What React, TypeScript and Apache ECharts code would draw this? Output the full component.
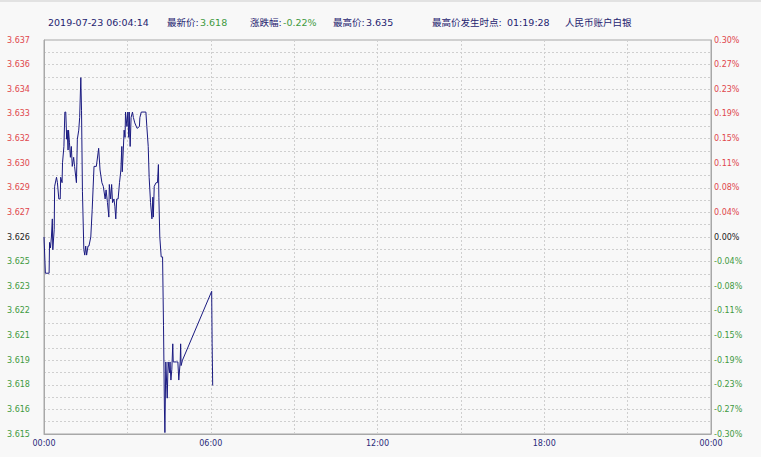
import React, { useEffect, useRef } from "react";
import * as echarts from "echarts";

// Reference (previous close) price: 0.00% line
const basePrice = 3.6262;

// Minutes after 00:00
const times = [
  0, 1, 3, 11, 12, 14, 16, 18, 19, 22, 23, 27, 29, 32, 35, 36, 39, 40, 43, 45,
  47, 49, 50, 52, 53, 55, 57, 59, 61, 64, 66, 70, 72, 75, 77, 79.5, 81, 83, 86, 88,
  90, 92, 95, 97, 101, 104, 108, 113, 118, 121, 125, 128, 132, 134, 137, 140, 141, 144, 146, 148,
  151, 153, 155, 157, 160, 163, 166, 168, 169, 171, 173, 175, 176, 179, 181, 183, 184, 186, 188, 191,
  193, 196, 201, 206, 207, 210, 220, 222, 225, 227, 230, 233, 235, 236, 238, 242, 245, 247, 248, 250,
  253, 256, 258, 260, 261, 263, 265, 266, 268, 271, 272, 274, 276, 278, 279, 286, 289, 291, 294, 295,
  296, 299, 362, 363, 364.2,
];

const prices = [
  3.6262, 3.6262, 3.6242, 3.6242, 3.6259, 3.6256, 3.6262, 3.6272, 3.6255, 3.6266, 3.629, 3.6295, 3.6292, 3.6283, 3.6283, 3.6295, 3.6292, 3.6303, 3.6312, 3.6331,
  3.6331, 3.6316, 3.6321, 3.631, 3.6321, 3.6314, 3.6306, 3.6312, 3.6301, 3.6306, 3.6301, 3.6292, 3.6316, 3.6321, 3.6328, 3.635, 3.6332, 3.6287, 3.6255, 3.6252,
  3.6257, 3.6252, 3.6257, 3.6257, 3.6262, 3.6277, 3.6301, 3.6301, 3.6311, 3.6299, 3.6292, 3.629, 3.6283, 3.6288, 3.6281, 3.6273, 3.6291, 3.6283, 3.6291, 3.6281,
  3.6283, 3.6279, 3.6272, 3.6283, 3.6283, 3.6292, 3.6299, 3.6312, 3.6298, 3.6309, 3.6321, 3.6317, 3.6331, 3.6323, 3.6331, 3.6317, 3.6331, 3.6312, 3.6328, 3.6331,
  3.6328, 3.6325, 3.6322, 3.6323, 3.6328, 3.6331, 3.6331, 3.6323, 3.6312, 3.6295, 3.6281, 3.6272, 3.6284, 3.6273, 3.629, 3.6292, 3.6292, 3.6302, 3.6284, 3.6262,
  3.6251, 3.6251, 3.6213, 3.6167, 3.6154, 3.6193, 3.618, 3.6173, 3.6193, 3.6187, 3.6193, 3.6183, 3.6189, 3.6203, 3.6193, 3.6193, 3.6193, 3.6183, 3.6193, 3.6203,
  3.6191, 3.6194, 3.6232, 3.6203, 3.618,
];

const leftLabels = [
  "3.637", "3.636", "3.634", "3.633", "3.632", "3.630", "3.629", "3.627", "3.626",
  "3.625", "3.623", "3.622", "3.621", "3.619", "3.618", "3.616", "3.615",
];
const rightLabels = [
  "0.30%", "0.27%", "0.23%", "0.19%", "0.15%", "0.11%", "0.08%", "0.04%", "0.00%",
  "-0.04%", "-0.08%", "-0.11%", "-0.15%", "-0.19%", "-0.23%", "-0.27%", "-0.30%",
];
const xLabels = ["00:00", "06:00", "12:00", "18:00", "00:00"];

const headerDate = "2019-07-23 06:04:14";
const lastPrice = "3.618";
const changePct = "-0.22%";
const highPrice = "3.635";
const highTime = "01:19:28";
const instrument = "人民币账户白银";

const NAVY = "#1f2470";
const RED = "#e0474c";
const GREEN = "#3f9a3f";
const FONT = "'DejaVu Sans', 'Noto Sans CJK SC', sans-serif";

const labelIndex = (v: number) => Math.round((0.3 - v) / 0.0375 * 1000) / 1000;

function richFor(labels: string[]) {
  return (v: number) => {
    const idx = labelIndex(v);
    if (Math.abs(idx - Math.round(idx)) > 1e-6) return "";
    const i = Math.round(idx);
    const txt = labels[i];
    if (txt === undefined) return "";
    const key = i < 8 ? "r" : i === 8 ? "k" : "g";
    return `{${key}|${txt}}`;
  };
}

const labelRich = {
  r: { color: RED, fontSize: 8, fontFamily: FONT },
  k: { color: "#222", fontSize: 8, fontFamily: FONT },
  g: { color: GREEN, fontSize: 8, fontFamily: FONT },
};

export default function App() {
  const ref = useRef<HTMLDivElement>(null);
  useEffect(() => {
    if (!ref.current) return;
    const chart = echarts.init(ref.current, undefined, { renderer: "svg" });
    const data = times.map((t, i) => [t, (prices[i] / basePrice - 1) * 100]);
    const hText = (x: number, text: string, color: string) => ({
      type: "text",
      x,
      y: 22,
      style: {
        text,
        fill: color,
        font: `9.5px ${FONT}`,
        textVerticalAlign: "middle",
        verticalAlign: "middle",
      },
    });
    chart.setOption({
      animation: false,
      backgroundColor: "#f8f8f8",
      grid: {
        left: 44,
        right: 50,
        top: 40,
        bottom: 23,
        show: true,
        borderColor: "#a8a8a8",
        borderWidth: 1,
        backgroundColor: "#f8f8f8",
      },
      graphic: [
        { type: "line", shape: { x1: 0, y1: 1, x2: 761, y2: 1 }, style: { stroke: "#e2e2e2", lineWidth: 2 } },
        hText(48, headerDate, NAVY),
        hText(167, "最新价:", NAVY),
        hText(200, lastPrice, GREEN),
        hText(250, "涨跌幅:", NAVY),
        hText(283, changePct, GREEN),
        hText(333, "最高价:", NAVY),
        hText(366, highPrice, NAVY),
        hText(432, "最高价发生时点:", NAVY),
        hText(507, highTime, NAVY),
        hText(565, instrument, NAVY),
      ],
      xAxis: {
        type: "value",
        min: 0,
        max: 1440,
        interval: 180,
        axisLine: { show: true, onZero: false, lineStyle: { color: "#a8a8a8" } },
        axisTick: { show: false },
        axisLabel: {
          color: "#2b2b7a",
          fontSize: 8,
          fontFamily: FONT,
          margin: 5,
          formatter: (v: number) => (v % 360 === 0 ? xLabels[v / 360] : ""),
        },
        splitLine: { show: true, lineStyle: { color: "#cfcfcf", type: [2, 2], width: 1 } },
      },
      yAxis: [
        {
          type: "value",
          position: "left",
          min: -0.3,
          max: 0.3,
          interval: 0.01875,
          axisLine: { show: true, onZero: false, lineStyle: { color: "#a8a8a8" } },
          axisTick: { show: false },
          axisLabel: {
            align: "left",
            margin: 37,
            formatter: richFor(leftLabels),
            rich: labelRich,
          },
          splitLine: { show: true, lineStyle: { color: "#cfcfcf", type: [2, 2], width: 1 } },
        },
        {
          type: "value",
          position: "right",
          min: -0.3,
          max: 0.3,
          interval: 0.01875,
          axisLine: { show: true, onZero: false, lineStyle: { color: "#a8a8a8" } },
          axisTick: { show: false },
          axisLabel: {
            align: "left",
            margin: 3,
            formatter: richFor(rightLabels),
            rich: labelRich,
          },
          splitLine: { show: false },
        },
      ],
      series: [
        {
          type: "line",
          data,
          showSymbol: false,
          symbol: "none",
          lineStyle: { color: "#1a1a80", width: 1 },
          silent: true,
        },
      ],
    });
    return () => chart.dispose();
  }, []);
  return (
    <div
      ref={ref}
      style={{ position: "fixed", left: 0, top: 0, width: 761, height: 457 }}
    />
  );
}
